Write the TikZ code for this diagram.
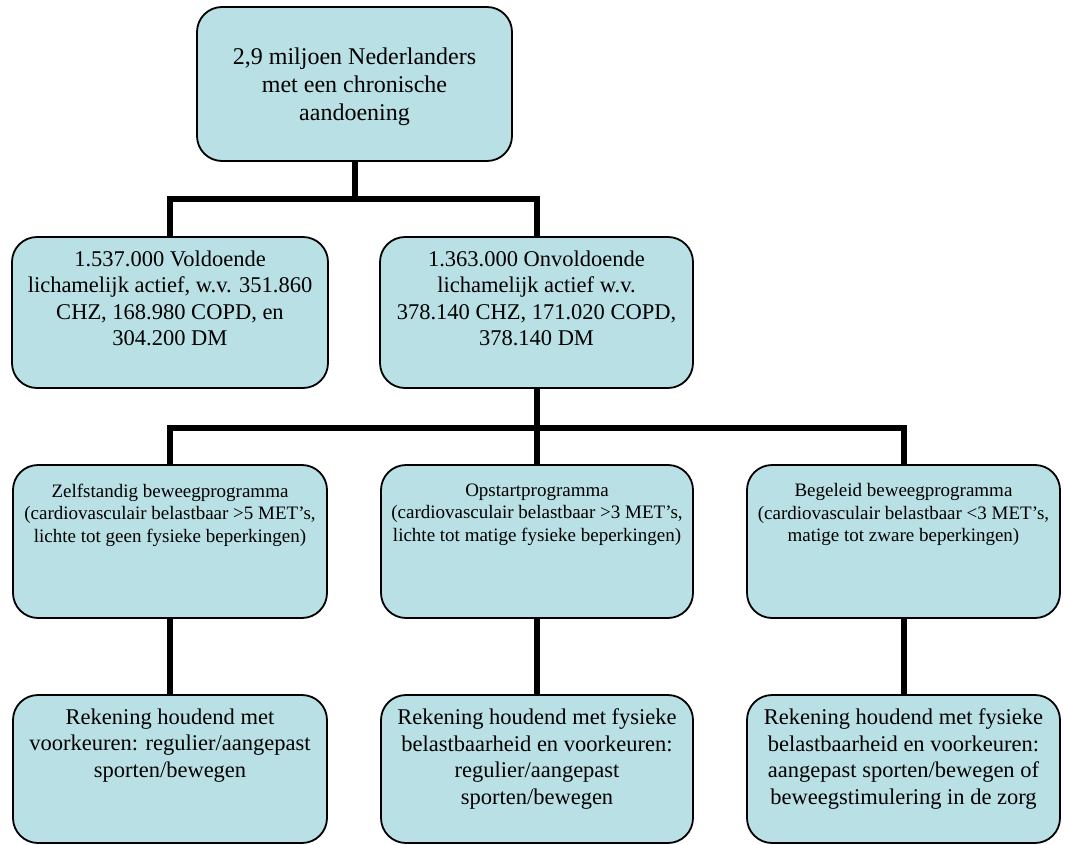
\documentclass[tikz,border=0pt]{standalone}
\usepackage{fontspec}
\setmainfont{Liberation Serif}
\usetikzlibrary{calc}

\definecolor{boxfill}{RGB}{185,224,228}

\tikzset{
  orgbox/.style={draw=black, line width=1.8pt, fill=boxfill, rounded corners=25pt,
                 inner sep=0pt, minimum width=#1},
  orgbox/.default=314pt,
  row2/.style={minimum height=151pt},
  row3/.style={minimum height=153pt},
  row4/.style={minimum height=148pt},
  bigtext/.style={align=center, inner sep=0pt, font=\fontsize{24}{28}\selectfont},
  midtext/.style={align=center, inner sep=0pt, font=\fontsize{22.5}{26.5}\selectfont},
  smalltext/.style={align=center, inner sep=0pt, font=\fontsize{19}{22.5}\selectfont},
  conn/.style={line width=6pt, draw=black}
}

\begin{document}
\begin{tikzpicture}[x=1pt, y=-1pt]
  \useasboundingbox (0,0) rectangle (1065,845);

  % top level
  \node[orgbox=315pt, minimum height=154pt] (top) at (354.5,84) {};
  \node[bigtext] (topT) at ($(top.center)+(0,3)$)
    {2,9 miljoen Nederlanders\\met een chronische\\aandoening};

  % second level
  \node[orgbox=316pt, row2] (act) at (170,312.5) {};
  \node[orgbox=313pt, row2] (inact) at (536.5,312.5) {};
  \node[midtext, anchor=north] (actT) at ($(act.north)+(0,14.5)$)
    {1.537.000 Voldoende\\lichamelijk actief, w.v. 351.860\\CHZ, 168.980 COPD, en\\304.200 DM};
  \node[midtext, anchor=north] (inactT) at ($(inact.north)+(0,14.5)$)
    {1.363.000 Onvoldoende\\lichamelijk actief w.v.\\378.140 CHZ, 171.020 COPD,\\378.140 DM};

  % third level: programmes
  \node[orgbox=314pt, row3] (progA) at (170,541.5) {};
  \node[orgbox=312pt, row3] (progB) at (537,541.5) {};
  \node[orgbox=313pt, row3] (progC) at (903.5,541.5) {};
  \node[smalltext, anchor=north] (progAT) at ($(progA.north)+(0,19.5)$)
    {Zelfstandig beweegprogramma\\(cardiovasculair belastbaar >5 MET’s,\\lichte tot geen fysieke beperkingen)};
  \node[smalltext, anchor=north] (progBT) at ($(progB.north)+(0,19.5)$)
    {Opstartprogramma\\(cardiovasculair belastbaar >3 MET’s,\\lichte tot matige fysieke beperkingen)};
  \node[smalltext, anchor=north] (progCT) at ($(progC.north)+(0,19.5)$)
    {Begeleid beweegprogramma\\(cardiovasculair belastbaar <3 MET’s,\\matige tot zware beperkingen)};

  % fourth level: activities
  \node[orgbox=314pt, row4] (actA) at (170,769) {};
  \node[orgbox=312pt, row4] (actB) at (537,769) {};
  \node[orgbox=313pt, row4] (actC) at (903.5,769) {};
  \node[midtext, anchor=north] (actAT) at ($(actA.north)+(0,14.5)$)
    {Rekening houdend met\\voorkeuren: regulier/aangepast\\sporten/bewegen};
  \node[midtext, anchor=north] (actBT) at ($(actB.north)+(0,14.5)$)
    {Rekening houdend met fysieke\\belastbaarheid en voorkeuren:\\regulier/aangepast\\sporten/bewegen};
  \node[midtext, anchor=north] (actCT) at ($(actC.north)+(0,14.5)$)
    {Rekening houdend met fysieke\\belastbaarheid en voorkeuren:\\aangepast sporten/bewegen of\\beweegstimulering in de zorg};

  % connectors
  \coordinate (j1) at ($(top.south)+(0,37)$);
  \coordinate (j2) at ($(inact.south)+(0,39)$);
  \draw[conn] (top.south) -- (j1);
  \draw[conn] (j1) -| (act.north);
  \draw[conn] (j1) -| (inact.north);
  \draw[conn] (inact.south) -- (j2);
  \draw[conn] (j2) -| (progA.north);
  \draw[conn] (j2) -| (progB.north);
  \draw[conn] (j2) -| (progC.north);
  \draw[conn] (progA.south) -- (actA.north);
  \draw[conn] (progB.south) -- (actB.north);
  \draw[conn] (progC.south) -- (actC.north);
\end{tikzpicture}
\end{document}
